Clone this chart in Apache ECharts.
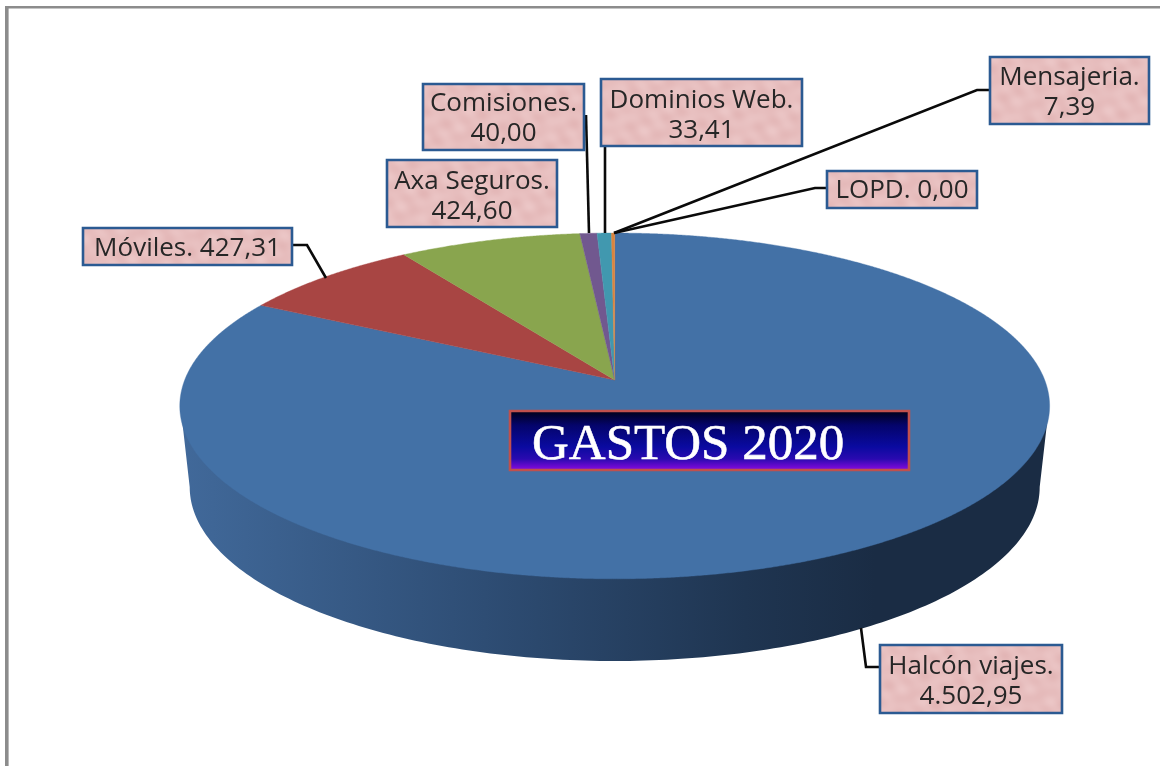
<!DOCTYPE html>
<html>
<head>
<meta charset="utf-8">
<style>html,body{margin:0;padding:0;background:#fff}#c{width:1160px;height:766px;filter:blur(0.5px)}</style>
<script src="https://cdn.jsdelivr.net/npm/echarts@6/dist/echarts.min.js"></script>
</head>
<body>
<div id="c"></div>
<script>
// ---- data ----
var categories = ['Halcón viajes', 'Móviles', 'Axa Seguros', 'Comisiones', 'Dominios Web', 'Mensajeria', 'LOPD'];
var gastos = [4502.95, 427.31, 424.60, 40.00, 33.41, 7.39, 0.00];
var titleText = 'GASTOS 2020';

// ---- styling and layout (not data) ----
var sliceColors = ['#4371a6', '#a84543', '#89a54e', '#71588f', '#4198af', '#db843d', '#95b3d7'];
var geom = { cx: 614.7, cy: 380, a: 169, b: 430, k: -0.15 };
var lower = { cx: 614.7, cy: 487, rx: 425, ry: 174 };
var labelLayout = [
  { box: [879, 644, 184, 70], twoLines: true, dy: 2.5, line: [[879, 667], [866, 667], [861, 628]] },
  { box: [82, 227, 211, 39], twoLines: false, dy: 2, line: [[293, 245], [307, 245], [326, 278]] },
  { box: [386, 159, 172, 69], twoLines: true, dy: 2.5, line: null },
  { box: [422, 83, 163, 68], twoLines: true, dy: 0.5, line: [[586, 115], [589, 233]] },
  { box: [600, 78, 203, 69], twoLines: true, dy: 3, line: [[605, 147], [605, 233]] },
  { box: [989, 56, 161, 69], twoLines: true, dy: 1.5, line: [[989, 90], [977, 90], [614, 233]] },
  { box: [826, 170, 152, 39], twoLines: false, dy: 1, line: [[826, 188], [815, 188], [614, 233]] }
];

function fmt(v) {
  var p = v.toFixed(2).split('.');
  return p[0].replace(/\B(?=(\d{3})+$)/g, '.') + ',' + p[1];
}
function pt(deg) {
  var t = deg * Math.PI / 180, X = Math.sin(t), Y = -Math.cos(t), d = 1 + geom.k * Y;
  return [geom.cx + geom.b * X / d, geom.cy + geom.a * Y / d];
}
var total = gastos.reduce(function (s, v) { return s + v; }, 0);
function startAngle(i) {
  var s = 0;
  for (var j = 0; j < i; j++) s += gastos[j];
  return s / total * 360;
}

// mottled pink texture for the label boxes (deterministic, smooth clouds)
function makeTexture() {
  var n = 128, cv = document.createElement('canvas');
  cv.width = n; cv.height = n;
  var g = cv.getContext('2d'), im = g.createImageData(n, n), w = 2 * Math.PI / n;
  for (var y = 0; y < n; y++) for (var x = 0; x < n; x++) {
    var s = Math.sin(w * (4 * x + 3 * y)) + Math.sin(w * (5 * x - 6 * y) + 1.3) +
            Math.sin(w * (-7 * x + 3 * y) + 2.1) + Math.sin(w * (2 * x + 8 * y) + 0.4);
    var o = (y * n + x) * 4;
    im.data[o] = 231 + s * 1.2; im.data[o + 1] = 190 + s * 2.2; im.data[o + 2] = 190 + s * 2.2; im.data[o + 3] = 255;
  }
  g.putImageData(im, 0, 0);
  return cv;
}
var texture = makeTexture();

var option = {
  animation: false,
  backgroundColor: '#ffffff',
  series: [
    { // visible side wall of the pie
      type: 'custom', coordinateSystem: 'none', z: 1, silent: true,
      data: [gastos[0]],
      renderItem: function () {
        var pts = [[180.5, 406]];
        for (var a = 180; a >= 0; a -= 1) {
          var t = a * Math.PI / 180;
          pts.push([lower.cx + lower.rx * Math.cos(t), lower.cy + lower.ry * Math.sin(t)]);
        }
        pts.push([1049, 406]);
        return {
          type: 'polygon', shape: { points: pts },
          style: {
            fill: new echarts.graphic.LinearGradient(0, 0, 1, 0, [
              { offset: 0, color: '#41699a' },
              { offset: 0.35, color: '#2e4d74' },
              { offset: 0.65, color: '#1f3551' },
              { offset: 0.8, color: '#1a2c44' },
              { offset: 1, color: '#1a2c44' }
            ])
          }
        };
      }
    },
    { // top face: one slice per category, angle taken from the value
      type: 'custom', coordinateSystem: 'none', z: 2, silent: true,
      data: gastos.map(function (v, i) { return { name: categories[i], value: v }; }),
      renderItem: function (params, api) {
        var i = params.dataIndex, v = api.value(0);
        if (!(v > 0)) return null;
        var a0 = startAngle(i), a1 = a0 + v / total * 360, pts = [[geom.cx, geom.cy]];
        var step = 0.25, a;
        for (a = a0; a < a1; a += step) pts.push(pt(a));
        pts.push(pt(a1));
        return {
          type: 'polygon', shape: { points: pts },
          style: { fill: sliceColors[i], stroke: sliceColors[i], lineWidth: 0.4 }
        };
      }
    },
    { // callouts
      type: 'custom', coordinateSystem: 'none', z: 3, silent: true,
      data: gastos.map(function (v, i) { return { name: categories[i], value: v }; }),
      renderItem: function (params, api) {
        var i = params.dataIndex, L = labelLayout[i], b = L.box, v = api.value(0), ch = [];
        var fam = '"Open Sans", sans-serif', fs = 26;
        if (L.line) ch.push({
          type: 'polyline', shape: { points: L.line },
          style: { stroke: '#0a0a0a', lineWidth: 2.6, fill: null, lineJoin: 'miter' }
        });
        ch.push({
          type: 'rect', shape: { x: b[0] + 1, y: b[1] + 1, width: b[2] - 2, height: b[3] - 2 },
          style: { fill: { image: texture, repeat: 'repeat' }, stroke: '#2b5a92', lineWidth: 2.6 }
        });
        var cx = b[0] + b[2] / 2, ts = { fill: '#262626', font: fs + 'px ' + fam, align: 'center', verticalAlign: 'middle' };
        if (L.twoLines) {
          ch.push({ type: 'text', x: cx, y: b[1] + 20 + L.dy, style: Object.assign({ text: categories[i] + '.' }, ts) });
          ch.push({ type: 'text', x: cx, y: b[1] + 50 + L.dy, style: Object.assign({ text: fmt(v) }, ts) });
        } else {
          ch.push({ type: 'text', x: cx, y: b[1] + b[3] / 2 + L.dy, style: Object.assign({ text: categories[i] + '. ' + fmt(v) }, ts) });
        }
        return { type: 'group', children: ch };
      }
    }
  ],
  graphic: { elements: [
    { type: 'rect', z: 0, silent: true, shape: { x: 5, y: 6, width: 1155, height: 2.6 }, style: { fill: '#8c8c8c' } },
    { type: 'rect', z: 0, silent: true, shape: { x: 5, y: 6, width: 3.6, height: 760 }, style: { fill: '#8c8c8c' } },
    { type: 'rect', z: 10, silent: true, shape: { x: 510, y: 411, width: 399, height: 59 },
      style: {
        stroke: '#c0504d', lineWidth: 2.6,
        fill: new echarts.graphic.LinearGradient(0, 0, 0, 1, [
          { offset: 0, color: '#000010' },
          { offset: 0.25, color: '#04046a' },
          { offset: 0.6, color: '#0a0aa0' },
          { offset: 0.8, color: '#2a0ab0' },
          { offset: 0.95, color: '#7a0ad8' },
          { offset: 1, color: '#8a20d0' }
        ])
      } },
    { type: 'text', z: 11, silent: true, x: 532, y: 446,
      style: { text: titleText, fill: '#ffffff', stroke: '#ffffff', lineWidth: 0.6, font: '51px "Liberation Serif", serif', align: 'left', verticalAlign: 'middle' } }
  ] }
};
var chart = echarts.init(document.getElementById('c'), null, { renderer: 'canvas', width: 1160, height: 766 });
chart.setOption(option);
</script>
</body>
</html>
